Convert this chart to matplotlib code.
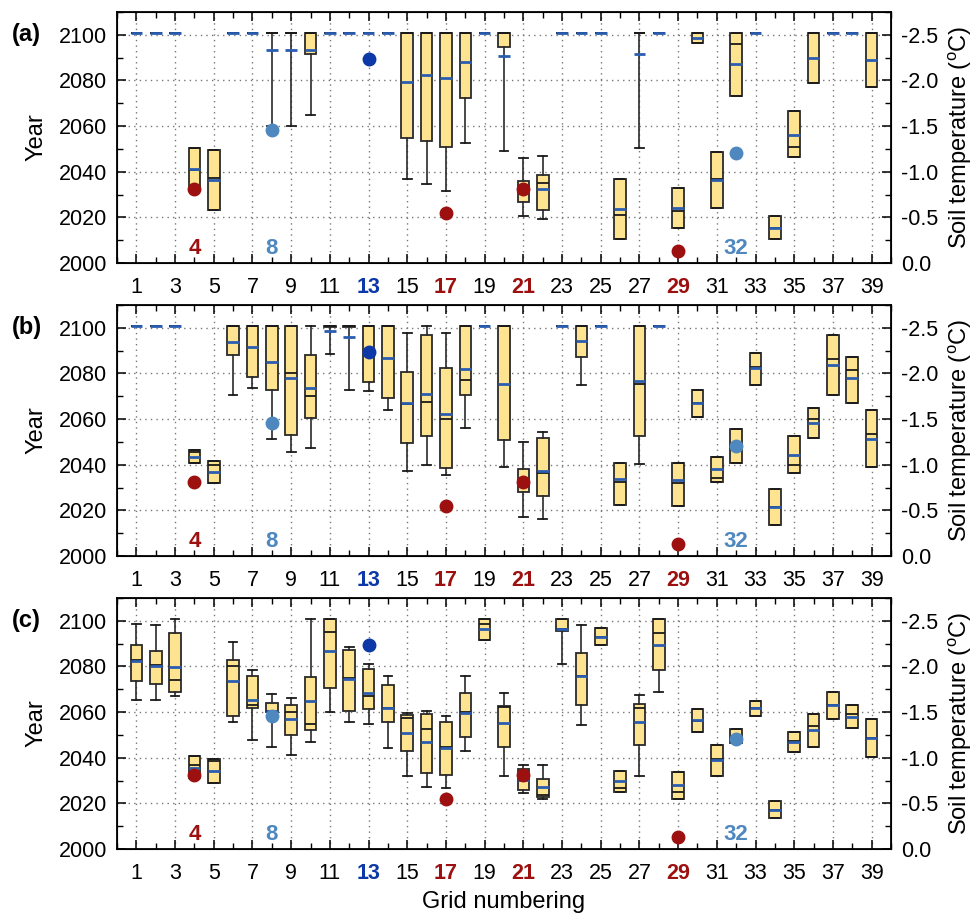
import numpy as np
import matplotlib
matplotlib.use('Agg')
import matplotlib.pyplot as plt
from matplotlib.ticker import MultipleLocator, FormatStrFormatter

plt.rcParams['font.family'] = ['Liberation Sans', 'DejaVu Sans']
plt.rcParams['axes.unicode_minus'] = False
plt.rcParams['mathtext.fontset'] = 'custom'
plt.rcParams['mathtext.rm'] = 'Liberation Sans'

grids = list(range(1, 40))
T = 2101  # not yet reached by 2100

# ---- panel (a) ----  None = no whisker
a_lo = [None, None, None, None, None, None, None, 2060, 2060, 2064.8,
        None, None, None, None, 2037.0, 2034.8, 2031.4, 2052.4, None, 2048.9,
        2020.7, 2019.1, None, None, None, None, 2050.4, None, None, None,
        None, None, None, None, None, None, None, None, None]
a_q1 = [T, T, T, 2032.5, 2023.3, T, T, T, T, 2091.7,
        T, T, T, T, 2054.9, 2053.6, 2050.7, 2072.3, T, 2094.8,
        2026.9, 2023.3, T, T, T, 2010.5, T, T, 2015.4, 2096.2,
        2023.9, 2073.2, T, 2010.5, 2046.3, 2078.8, T, T, 2077.3]
a_med = [T, T, T, 2040.8, 2037.4, T, T, T, T, T,
         T, T, T, T, T, T, T, T, T, T,
         2032.3, 2034.9, T, T, T, 2021.1, T, T, 2023.0, T,
         2037.0, 2095.8, T, 2015.2, 2051.0, T, T, T, T]
a_mean = [T, T, T, 2041.3, 2036.5, T, T, 2093.3, 2093.3, 2093.4,
          T, T, T, T, 2079.5, 2082.2, 2081.2, 2088.1, T, 2090.7,
          2032.0, 2032.3, T, T, T, 2023.8, 2091.7, T, 2024.2, 2098.6,
          2036.5, 2087.1, T, 2015.5, 2056.2, 2089.7, T, T, 2089.0]
a_q3 = [T, T, T, 2050.5, 2049.3, T, T, T, T, T,
        T, T, T, T, T, T, T, T, T, T,
        2036.0, 2038.7, T, T, T, 2036.9, T, T, 2032.9, T,
        2048.8, T, T, 2020.5, 2066.4, T, T, T, T]
a_hi = [None] * 20 + [2045.9, 2046.9] + [None] * 17

# ---- panel (b) ----
b_lo = [None, None, None, None, None, 2070.6, 2073.5, 2051.4, 2045.7, 2047.2,
        2088.7, 2072.9, 2072.4, 2064.1, 2037.1, 2040.1, 2035.5, 2055.9, None, 2038.8,
        2017.3, 2016.4, None, 2075.0, None, None, 2040.3, None, None, None,
        None, None, None, None, None, None, None, None, None]
b_q1 = [T, T, T, 2040.6, 2031.8, 2088.3, 2078.4, 2072.9, 2053.1, 2060.7,
        2100.2, 2100.2, 2076.4, 2069.1, 2049.4, 2052.4, 2038.6, 2070.7, T, 2050.7,
        2028.2, 2026.4, T, 2087.4, T, 2022.3, 2052.4, T, 2021.9, 2061.1,
        2032.3, 2040.6, 2075.0, 2013.4, 2036.2, 2051.7, 2070.7, 2067.2, 2038.8]
b_med = [T, T, T, 2045.5, 2039.7, T, T, T, 2080.1, 2070.3,
         2100.6, 2100.6, T, T, 2066.6, 2067.7, 2060.1, 2077.1, T, T,
         2032.0, 2036.3, T, T, T, 2032.4, 2075.2, T, 2031.9, 2066.9,
         2034.3, 2047.3, 2083.0, 2021.4, 2039.9, 2060.2, 2086.5, 2081.7, 2053.3]
b_mean = [T, T, T, 2043.3, 2036.7, 2093.8, 2091.5, 2085.2, 2078.1, 2073.5,
          2098.7, 2095.8, 2090.2, 2086.8, 2066.9, 2070.8, 2062.4, 2082.1, T, 2075.3,
          2032.5, 2037.1, T, 2094.4, T, 2033.7, 2076.6, T, 2033.2, 2066.9,
          2038.0, 2048.3, 2082.6, 2021.4, 2044.4, 2058.5, 2083.8, 2077.8, 2051.5]
b_q3 = [T, T, T, 2046.6, 2041.8, T, T, T, T, 2088.3,
        T, T, T, T, 2080.7, 2097.0, 2082.2, T, T, T,
        2038.3, 2051.9, T, T, T, 2040.6, T, T, 2040.6, 2072.6,
        2043.6, 2055.6, 2088.8, 2029.4, 2052.8, 2065.0, 2097.0, 2087.1, 2064.2]
b_hi = [None] * 9 + [T, None, None, None, None, 2097.7, T, 2097.7, None, None, None,
                     2049.8, 2054.2] + [None] * 17

# ---- panel (c) ----
c_lo = [2065.3, 2065.3, 2067.2, None, None, 2055.8, 2047.6, 2044.7, 2041.2, 2046.9,
        2060.1, 2055.6, 2054.6, 2044.4, 2032.0, 2027.0, 2026.9, 2042.8, None, 2032.0,
        2024.4, 2022.0, 2081.0, 2054.5, None, None, 2032.1, 2068.6, None, None,
        None, None, None, None, None, None, None, None, None]
c_q1 = [2073.6, 2072.1, 2068.9, 2031.0, 2028.8, 2058.1, 2061.9, 2060.1, 2049.8, 2052.0,
        2070.7, 2060.6, 2061.5, 2055.5, 2042.9, 2033.4, 2032.4, 2049.3, 2091.5, 2044.8,
        2025.8, 2022.6, 2095.6, 2063.1, 2089.3, 2025.0, 2045.8, 2078.4, 2021.9, 2051.1,
        2032.0, 2046.4, 2058.5, 2013.6, 2042.5, 2044.8, 2056.9, 2053.0, 2040.3]
c_med = [2082.8, 2080.6, 2073.9, 2036.8, 2038.7, 2080.0, 2063.1, 2060.6, 2059.9, 2055.0,
         2094.9, 2074.9, 2067.2, 2061.6, 2057.2, 2052.8, 2044.8, 2059.9, 2098.4, 2062.1,
         2030.5, 2023.8, 2096.6, 2075.6, 2093.1, 2026.6, 2061.9, 2094.7, 2025.1, 2056.1,
         2039.6, 2048.5, 2062.0, 2017.2, 2047.3, 2053.9, 2063.1, 2059.3, 2048.6]
c_mean = [2082.6, 2080.4, 2079.9, 2035.6, 2034.2, 2073.6, 2065.5, 2060.4, 2056.8, 2064.7,
          2086.9, 2074.5, 2068.5, 2061.6, 2050.9, 2047.0, 2044.4, 2059.7, 2096.2, 2055.2,
          2030.1, 2027.0, 2096.4, 2075.6, 2093.1, 2029.6, 2055.5, 2089.3, 2027.9, 2056.4,
          2039.1, 2048.3, 2061.8, 2017.2, 2047.0, 2052.0, 2063.1, 2057.8, 2048.6]
c_q3 = [2089.3, 2086.6, 2094.7, 2040.9, 2039.4, 2082.9, 2075.9, 2064.2, 2062.9, 2075.5,
        2100.9, 2087.4, 2078.7, 2071.7, 2058.7, 2059.1, 2055.8, 2068.5, 2100.9, 2062.6,
        2034.9, 2030.8, 2100.9, 2086.0, 2096.9, 2034.3, 2063.6, 2100.9, 2033.9, 2061.3,
        2045.8, 2052.8, 2064.8, 2020.9, 2051.4, 2059.0, 2068.8, 2062.9, 2056.8]
c_hi = [2098.5, 2098.2, 2100.9, None, None, 2090.8, 2078.5, 2068.0, 2066.3, 2100.9,
        2100.9, 2088.6, 2080.9, 2075.8, 2059.6, 2060.6, 2058.4, 2075.8, None, 2068.5,
        2036.8, 2036.9, None, 2098.2, None, None, 2067.4, None, None, None,
        None, None, None, None, None, None, None, None, None]

# soil temperature of selected grids (right axis)
red_grids = [4, 17, 21, 29]
red_temp = [-0.81, -0.55, -0.81, -0.13]
lblue_grids = [8, 32]
lblue_temp = [-1.46, -1.21]
dblue_grids = [13]
dblue_temp = [-2.23]

panels = [
    ('(a)', a_lo, a_q1, a_med, a_mean, a_q3, a_hi),
    ('(b)', b_lo, b_q1, b_med, b_mean, b_q3, b_hi),
    ('(c)', c_lo, c_q1, c_med, c_mean, c_q3, c_hi),
]

RED = '#9c1010'
LBLUE = '#4f88bf'
DBLUE = '#0c38a8'
BOXFACE = '#fee390'
MEANC = '#2a5db0'

label_colors = {13: DBLUE, 17: RED, 21: RED, 29: RED}

fig = plt.figure(figsize=(9.76, 9.16), dpi=100)
boxes_pos = [(0.7129, 0.9869), (0.393, 0.667), (0.0731, 0.3472)]
left, right = 0.1199, 0.9129
TICKFS = 15.5
LABFS = 17

for (tag, lo, q1, med, mean, q3, hi), (bot, top) in zip(panels, boxes_pos):
    ax = fig.add_axes([left, bot, right - left, top - bot])
    stats = []
    for i in range(len(grids)):
        stats.append(dict(
            whislo=q1[i] if lo[i] is None else lo[i],
            q1=q1[i], med=med[i], mean=mean[i], q3=q3[i],
            whishi=q3[i] if hi[i] is None else hi[i],
            fliers=[]))
    ax.bxp(stats, positions=grids, widths=0.6, capwidths=0.45,
           patch_artist=True, showmeans=True, meanline=True,
           showfliers=False, manage_ticks=False,
           boxprops=dict(facecolor=BOXFACE, edgecolor='#2a2a2a', linewidth=1.3),
           whiskerprops=dict(color='#2a2a2a', linewidth=1.2),
           capprops=dict(color='#1a1a1a', linewidth=1.3),
           medianprops=dict(color='#1a1a1a', linewidth=1.3),
           meanprops=dict(color=MEANC, linewidth=2.0, linestyle='-'))

    ax.set_xlim(0, 40)
    ax.set_ylim(2000, 2110)
    ax.xaxis.set_minor_locator(MultipleLocator(1))
    ax.set_xticks(list(range(1, 40, 2)))
    ax.set_yticks([2000, 2020, 2040, 2060, 2080, 2100])
    ax.yaxis.set_minor_locator(MultipleLocator(10))
    ax.tick_params(axis='both', which='both', direction='in', labelsize=TICKFS)
    ax.tick_params(axis='x', which='both', top=True, pad=10)
    ax.tick_params(axis='y', pad=7)
    ax.tick_params(which='major', length=6.5, width=1.1)
    ax.tick_params(which='minor', length=4, width=1.0)
    for lab in ax.get_xticklabels():
        n = int(lab.get_text())
        if n in label_colors:
            lab.set_color(label_colors[n])
            lab.set_fontweight('bold')
    ax.grid(True, which='major', linestyle=(0, (1, 3)), color='#777777', linewidth=1.0)
    ax.set_axisbelow(True)
    for sp in ax.spines.values():
        sp.set_linewidth(1.3)
    ax.set_ylabel('Year', fontsize=LABFS, labelpad=8)
    ax.annotate(tag, xy=(-0.136, 2100), xycoords=('axes fraction', 'data'),
                ha='left', va='center', fontsize=LABFS, fontweight='bold')

    ax.text(4, 2006.5, '4', color=RED, fontsize=16, fontweight='bold', ha='center', va='center')
    ax.text(8, 2006.5, '8', color=LBLUE, fontsize=16, fontweight='bold', ha='center', va='center')
    ax.text(32, 2006.5, '32', color=LBLUE, fontsize=16, fontweight='bold', ha='center', va='center')

    ax2 = ax.twinx()
    ax2.set_ylim(0, -2.75)
    ax2.yaxis.set_major_locator(MultipleLocator(0.5))
    ax2.yaxis.set_minor_locator(MultipleLocator(0.25))
    ax2.yaxis.set_major_formatter(FormatStrFormatter('%.1f'))
    ax2.tick_params(axis='y', which='both', direction='in', labelsize=TICKFS, pad=7)
    ax2.tick_params(which='major', length=6.5, width=1.1)
    ax2.tick_params(which='minor', length=4, width=1.0)
    ax2.plot(red_grids, red_temp, 'o', color=RED, markersize=9, zorder=5)
    ax2.plot(lblue_grids, lblue_temp, 'o', color=LBLUE, markersize=9, zorder=5)
    ax2.plot(dblue_grids, dblue_temp, 'o', color=DBLUE, markersize=9, zorder=5)
    ax2.set_ylabel(r'Soil temperature ($^{\rm o}$C)', fontsize=LABFS, labelpad=6)
    ax2.set_xlim(0, 40)

    if tag == '(c)':
        ax.set_xlabel('Grid numbering', fontsize=LABFS, labelpad=5)

fig.savefig('out.png', dpi=100)
